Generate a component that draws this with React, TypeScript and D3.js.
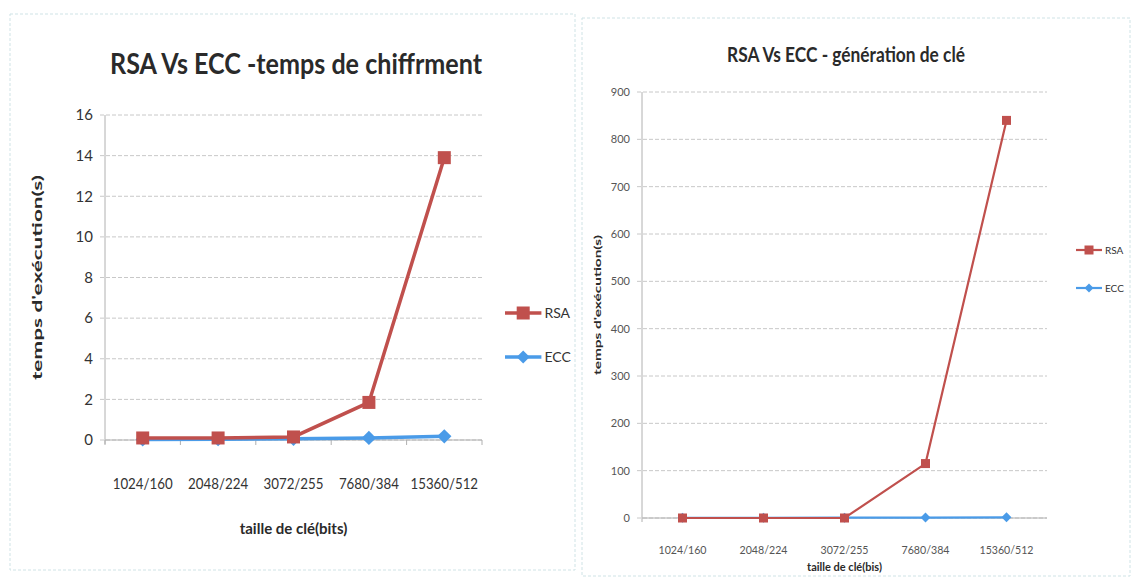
import React from "react";
import * as d3 from "d3";

const categories = ["1024/160", "2048/224", "3072/255", "7680/384", "15360/512"];
const rsaEnc = [0.1, 0.1, 0.15, 1.85, 13.9];
const eccEnc = [0.03, 0.04, 0.06, 0.1, 0.18];
const encTicks = [0, 2, 4, 6, 8, 10, 12, 14, 16];
const rsaGen = [0, 0, 0, 115, 840];
const eccGen = [0.5, 0.5, 0.6, 1, 1.5];
const genTicks = [0, 100, 200, 300, 400, 500, 600, 700, 800, 900];

const RED = "#C0504D";
const BLUE = "#4A9BE8";

type PanelProps = {
  title: string;
  yLabel: string;
  xLabel: string;
  rsa: number[];
  ecc: number[];
  ticks: number[];
  box: [number, number, number, number];
  plot: { x0: number; x1: number; y0: number; y1: number };
  titleX: number;
  titleY: number;
  titleSize: number;
  titleLen: number;
  tickSize: number;
  tickColor: string;
  xTickY: number;
  xTickLen: number;
  xTitleY: number;
  xTitleSize: number;
  yLabelX: number;
  yLabelSize: number;
  yLabelLen: number;
  legendX: number;
  legendY: [number, number];
  legendSize: number;
  marker: number;
  lineW: number;
  xTicksMarks: boolean;
};

function Panel(p: PanelProps) {
  const x = d3.scaleBand<string>().domain(categories).range([p.plot.x0, p.plot.x1]);
  const y = d3.scaleLinear().domain([p.ticks[0], p.ticks[p.ticks.length - 1]]).range([p.plot.y1, p.plot.y0]);
  const cx = (c: string) => (x(c) as number) + x.bandwidth() / 2;
  const line = d3
    .line<number>()
    .x((_, i) => cx(categories[i]))
    .y((d) => y(d));
  const m = p.marker;
  const legendLineLen = p.legendSize * 2.6;
  const midX = (p.plot.x0 + p.plot.x1) / 2;
  return (
    <g>
      <rect x={p.box[0]} y={p.box[1]} width={p.box[2]} height={p.box[3]} fill="#fff" stroke="#cfe3e6" strokeWidth={1} strokeDasharray="3 2" />
      <text x={p.titleX} y={p.titleY} textAnchor="middle" fontFamily="Lato, 'Open Sans', sans-serif" fontWeight="bold" fontSize={p.titleSize} fill="#2a2a2a" textLength={p.titleLen} lengthAdjust="spacingAndGlyphs">
        {p.title}
      </text>
      {p.ticks.map((t) => (
        <g key={t}>
          <line x1={p.plot.x0 - 5} x2={p.plot.x1} y1={y(t)} y2={y(t)} stroke="#c8c8c8" strokeWidth={1} strokeDasharray="4 2" />
          <text x={p.plot.x0 - 12} y={y(t)} dy="0.35em" textAnchor="end" fontFamily="Lato, sans-serif" fontSize={p.tickSize} fill={p.tickColor}>
            {t}
          </text>
        </g>
      ))}
      <line x1={p.plot.x0} x2={p.plot.x0} y1={p.plot.y0} y2={p.plot.y1 + 4} stroke="#b0b0b0" />
      <line x1={p.plot.x0} x2={p.plot.x1} y1={p.plot.y1} y2={p.plot.y1} stroke="#b0b0b0" />
      {p.xTicksMarks &&
        categories.map((c) => (
          <line key={c} x1={x(c) as number} x2={x(c) as number} y1={p.plot.y1} y2={p.plot.y1 + 5} stroke="#b0b0b0" />
        ))}
      {p.xTicksMarks && <line x1={p.plot.x1} x2={p.plot.x1} y1={p.plot.y1} y2={p.plot.y1 + 5} stroke="#b0b0b0" />}
      {categories.map((c) => (
        <text key={c} x={cx(c)} y={p.xTickY} textAnchor="middle" fontFamily="Lato, sans-serif" fontSize={p.tickSize} fill={p.tickColor} textLength={p.xTickLen * (c.length / 8)} lengthAdjust="spacingAndGlyphs">
          {c}
        </text>
      ))}
      <text x={midX} y={p.xTitleY} textAnchor="middle" fontFamily="Lato, sans-serif" fontWeight="bold" fontSize={p.xTitleSize} fill="#2a2a2a">
        {p.xLabel}
      </text>
      <text
        transform={`translate(${p.yLabelX},${(p.plot.y0 + p.plot.y1) / 2}) rotate(-90)`}
        textAnchor="middle"
        fontFamily="Lato, sans-serif"
        fontWeight="bold"
        fontSize={p.yLabelSize}
        fill="#2a2a2a"
        textLength={p.yLabelLen}
        lengthAdjust="spacingAndGlyphs"
      >
        {p.yLabel}
      </text>
      <path d={line(p.ecc) || ""} fill="none" stroke={BLUE} strokeWidth={p.lineW} />
      {p.ecc.map((v, i) => {
        const px = cx(categories[i]);
        const py = y(v);
        const r = m * 0.55;
        return <path key={i} d={`M${px},${py - r}L${px + r},${py}L${px},${py + r}L${px - r},${py}Z`} fill={BLUE} />;
      })}
      <path d={line(p.rsa) || ""} fill="none" stroke={RED} strokeWidth={p.lineW} />
      {p.rsa.map((v, i) => (
        <rect key={i} x={cx(categories[i]) - m / 2} y={y(v) - m / 2} width={m} height={m} fill={RED} />
      ))}
      {[
        { name: "RSA", color: RED, sq: true },
        { name: "ECC", color: BLUE, sq: false },
      ].map((s, i) => {
        const ly = p.legendY[i];
        const lx = p.legendX;
        const mx = lx + legendLineLen / 2;
        const r = m * 0.5;
        return (
          <g key={s.name}>
            <line x1={lx} x2={lx + legendLineLen} y1={ly} y2={ly} stroke={s.color} strokeWidth={p.lineW} />
            {s.sq ? (
              <rect x={mx - r} y={ly - r} width={2 * r} height={2 * r} fill={s.color} />
            ) : (
              <path d={`M${mx},${ly - r}L${mx + r},${ly}L${mx},${ly + r}L${mx - r},${ly}Z`} fill={s.color} />
            )}
            <text x={lx + legendLineLen + 3} y={ly} dy="0.35em" fontFamily="Lato, sans-serif" fontSize={p.legendSize} fill="#333">
              {s.name}
            </text>
          </g>
        );
      })}
    </g>
  );
}

export default function App() {
  return (
    <svg width={1131} height={581} style={{ position: "absolute", left: 0, top: 0, background: "#fff" }}>
      <Panel
        title="RSA Vs ECC -temps de chiffrment"
        yLabel="temps d'exécution(s)"
        xLabel="taille de clé(bits)"
        rsa={rsaEnc}
        ecc={eccEnc}
        ticks={encTicks}
        box={[10, 14, 565, 556]}
        plot={{ x0: 105, x1: 482, y0: 115, y1: 440 }}
        titleX={296}
        titleY={74}
        titleSize={28}
        titleLen={372}
        tickSize={15}
        tickColor="#333"
        xTickY={489}
        xTickLen={60}
        xTitleY={534}
        xTitleSize={15}
        yLabelX={42}
        yLabelSize={13}
        yLabelLen={205}
        legendX={505}
        legendY={[313, 357]}
        legendSize={14}
        marker={13}
        lineW={3.5}
        xTicksMarks={true}
      />
      <Panel
        title="RSA Vs ECC - génération de clé"
        yLabel="temps d'exécution(s)"
        xLabel="taille de clé(bis)"
        rsa={rsaGen}
        ecc={eccGen}
        ticks={genTicks}
        box={[582, 18, 548, 558]}
        plot={{ x0: 642, x1: 1047, y0: 92, y1: 518 }}
        titleX={846}
        titleY={62}
        titleSize={20}
        titleLen={238}
        tickSize={11}
        tickColor="#555"
        xTickY={554}
        xTickLen={48}
        xTitleY={571}
        xTitleSize={11}
        yLabelX={601}
        yLabelSize={10}
        yLabelLen={140}
        legendX={1076}
        legendY={[250, 288]}
        legendSize={10}
        marker={9}
        lineW={2.2}
        xTicksMarks={false}
      />
    </svg>
  );
}
